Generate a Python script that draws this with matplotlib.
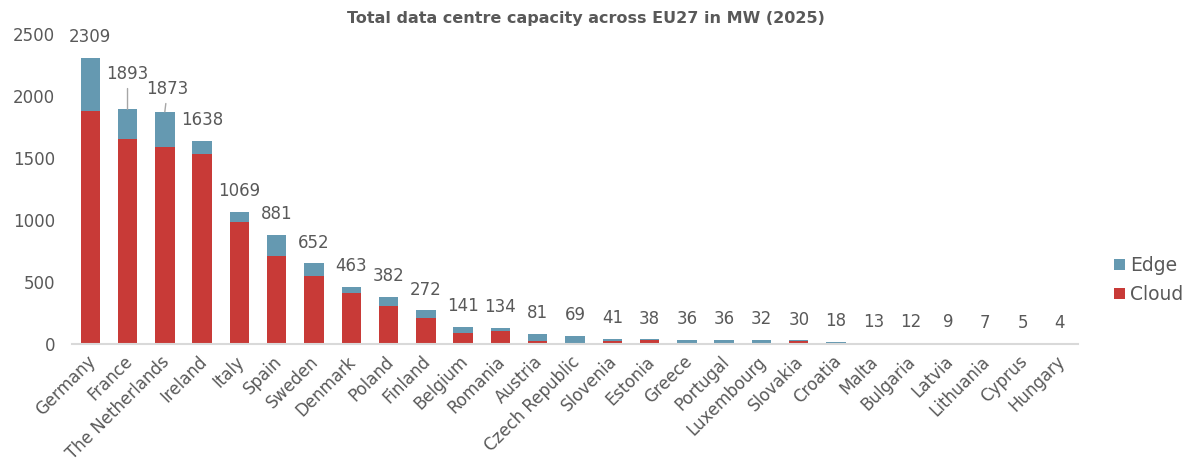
import matplotlib
matplotlib.use("Agg")
import matplotlib.pyplot as plt
import matplotlib.transforms as mtransforms
import numpy as np

plt.rcParams['font.family'] = ['DejaVu Sans']

countries = ["Germany", "France", "The Netherlands", "Ireland", "Italy", "Spain",
             "Sweden", "Denmark", "Poland", "Finland", "Belgium", "Romania",
             "Austria", "Czech Republic", "Slovenia", "Estonia", "Greece",
             "Portugal", "Luxembourg", "Slovakia", "Croatia", "Malta",
             "Bulgaria", "Latvia", "Lithuania", "Cyprus", "Hungary"]
totals = [2309, 1893, 1873, 1638, 1069, 881, 652, 463, 382, 272, 141, 134,
          81, 69, 41, 38, 36, 36, 32, 30, 18, 13, 12, 9, 7, 5, 4]
cloud = [1880, 1655, 1590, 1530, 985, 710, 550, 410, 305, 210, 87, 110,
         28, 0, 28, 33, 0, 8, 0, 26, 0, 0, 0, 0, 0, 0, 0]
edge = [t - c for t, c in zip(totals, cloud)]

RED = "#C83A37"
BLUE = "#6599B1"
GREY = "#595959"

fig = plt.figure(figsize=(11.93, 4.67), dpi=100)
ax = fig.add_axes([0.060, 0.263, 0.844, 0.664])

x = np.arange(len(countries))
ax.bar(x, cloud, width=0.52, color=RED, label="Cloud")
ax.bar(x, edge, width=0.52, bottom=cloud, color=BLUE, label="Edge")

# France and Netherlands labels were nudged, with leader lines
nudged = {1: (0, 19), 2: (2, 10)}
for i, t in enumerate(totals):
    if i in nudged:
        ax.annotate(str(t), xy=(i, t), xytext=nudged[i], textcoords="offset points",
                    ha="center", va="bottom", fontsize=12, color=GREY,
                    arrowprops=dict(arrowstyle="-", color="#A6A6A6", lw=1,
                                    shrinkA=2, shrinkB=0))
    else:
        ax.annotate(str(t), xy=(i, t), xytext=(0, 8.5), textcoords="offset points",
                    ha="center", va="bottom", fontsize=12, color=GREY)

ax.set_xlim(-0.5, len(countries) - 0.5)
ax.set_ylim(0, 2500)
ax.set_yticks(range(0, 2501, 500))
ax.set_xticks(x)
ax.set_xticklabels(countries, rotation=45, ha="right", rotation_mode="anchor")
ax.tick_params(axis="both", length=0, labelsize=12, labelcolor=GREY)
ax.tick_params(axis="x", pad=6)
ax.tick_params(axis="y", pad=12)

shift = mtransforms.ScaledTranslation(-3 / 72, 0, fig.dpi_scale_trans)
for lbl in ax.get_xticklabels():
    lbl.set_transform(lbl.get_transform() + shift)

for s in ["top", "right", "left"]:
    ax.spines[s].set_visible(False)
ax.spines["bottom"].set_color("#D9D9D9")
ax.spines["bottom"].set_linewidth(1.5)

handles, labels = ax.get_legend_handles_labels()
fig.legend(handles[::-1], labels[::-1], loc="center left", bbox_to_anchor=(0.92, 0.40),
           frameon=False, fontsize=13.5, handlelength=0.55, handleheight=0.55,
           handletextpad=0.3, labelspacing=0.55, labelcolor=GREY)

fig.text(0.491, 0.961, "Total data centre capacity across EU27 in MW (2025)",
         ha="center", va="center", fontsize=11.5, fontweight="bold", color=GREY)

fig.savefig("out.png", dpi=100)
